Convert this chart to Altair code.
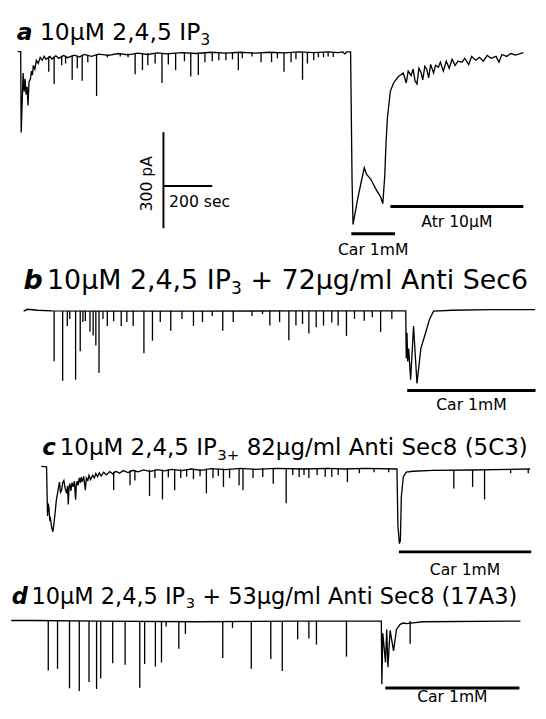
import altair as alt
import pandas as pd

# ---------------- data (time in s, current in pA) ----------------
# Panel a: 10uM 2,4,5 IP3
a_line_t = [28, 40, 42, 50, 54, 58, 62, 66, 70, 74, 80, 84, 88, 92, 98, 104, 112, 120, 128, 136, 144,
            160, 168, 184, 196, 216, 232, 260, 280, 300, 330, 360, 400, 440, 480, 520, 560, 600, 640,
            700, 760, 820, 880, 940, 1000, 1060, 1120, 1180, 1240, 1300, 1340, 1360, 1368, 1376, 1392,
            1398, 1402, 1421, 1435, 1448, 1457, 1475, 1495, 1515, 1524, 1532, 1537, 1543, 1555, 1568,
            1588, 1608, 1620, 1628, 1640, 1648, 1656, 1664, 1672, 1680, 1688, 1696, 1704, 1712, 1720,
            1732, 1740, 1752, 1760, 1772, 1784, 1796, 1808, 1820, 1832, 1848, 1860, 1876, 1888, 1904,
            1920, 1936, 1952, 1968, 1988, 2000, 2012, 2032, 2048, 2068, 2100]
a_line_i = [3, 3, -250, -64, -122, -82, -131, -107, -165, -92, -82, -58, -70, -40, -52, -24, -34, -15,
            -24, -12, -21, -12, -20, -10, -18, -9, -16, -8, -14, -6, -12, -5, -9, -3, -7, -2, -6, -1, -4,
            0, -3, 1, -2, 1, -2, 1, -1, 2, 0, 2, 0, 2, -4, 2, 2,
            -400, -537, -457, -406, -360, -380, -396, -426, -451, -472, -385, -284, -202, -121, -95,
            -75, -64, -95, -58, -72, -52, -88, -98, -49, -61, -85, -43, -52, -79, -37,
            -64, -40, -46, -30, -58, -27, -49, -21, -40, -27, -30, -18, -37, -12, -24,
            -15, -27, -9, -18, -12, -30, -6, -12, -3, -8, 0]
a_spk_t = [155, 177, 208, 224, 251, 272, 292, 315, 351, 395, 448, 480, 509, 539, 561, 591, 619, 645, 675,
           711, 737, 768, 795, 825, 852, 881, 908, 932, 948, 988, 1025, 1068, 1092, 1119, 1148, 1168,
           1195, 1215, 1241, 1260, 1281, 1300, 1321]
a_spk_top = [-12, -12, -10, -10, -9, -9, -8, -7, -6, -5, -4, -3, -2, -2, -2, -1, -1, -1, -1,
             0, 0, 0, 0, 0, 0, 0, 0, 0, 0, 0, 0, 0, 0, 0, 0, 0,
             0, 0, 0, 0, 0, 0, 0]
a_spk_tip = [-60, -98, -40, -34, -85, -49, -88, -30, -136, -15, -12, -15, -68, -55, -40, -34, -95, -37, -55,
             -27, -75, -70, -30, -27, -24, -24, -21, -55, -18, -12, -30, -30, -18, -60, -30, -21,
             -85, -34, -24, -15, -14, -12, -14]

# Panel b: + 72ug/ml Anti Sec6
b_line_t = [52, 68, 108, 168, 368, 768, 1168, 1618, 1620, 1623, 1626, 1630, 1638, 1650, 1664, 1680, 1696,
            1716, 1732, 1808, 1968, 2148]
b_line_i = [-3, 3, 0, -2, -3, -3, -2, -2, -150, -70, -160, -120, -217, -49, -229, -119, -79,
            -27, -3, 0, 2, 2]
b_spk_t = [177, 212, 231, 241, 265, 284, 295, 305, 324, 337, 348, 361, 377, 395, 421, 452, 475, 501,
           545, 580, 612, 655, 701, 748, 785, 825, 868, 911, 988, 1031, 1061, 1101, 1139, 1168, 1195,
           1221, 1251, 1281, 1315, 1341, 1375, 1408, 1448, 1481, 1515, 1561]
b_spk_tip = [-159, -220, -49, -27, -217, -128, -37, -34, -67, -79, -110, -195, -27, -49, -34, -49, -37,
             -49, -134, -95, -37, -64, -27, -49, -37, -18, -64, -37, -18, -12, -48, -37, -94, -48, -43,
             -73, -53, -48, -38, -48, -80, -27, -33, -22, -68, -27]

# Panel c: + 82ug/ml Anti Sec8 (5C3)
c_line_t = [124, 146, 150, 153, 156, 159, 162, 167, 172, 176, 181, 186, 191, 195, 199, 203, 208, 212,
            217, 222, 228, 232, 235, 238, 241, 246, 250, 255, 260, 265, 268, 272, 275, 280, 284, 288,
            292, 298, 305, 309, 315, 320, 326, 335, 342, 348, 355, 362, 370, 380, 392, 405, 418, 430,
            445, 460, 480, 500, 520, 545, 570, 600, 630, 660, 700, 740, 780, 820, 880, 940, 1000, 1088,
            1200, 1300, 1368, 1450, 1582, 1586, 1592, 1596, 1600, 1608, 1620, 1648, 1728, 1888, 2128]
c_line_i = [6, 5, -149, -110, -125, -160, -156, -185, -198, -175, -139, -100, -78, -60, -43, -75, -68, -45,
            -38, -62, -78, -55, -113, -60, -48, -70, -45, -58, -40, -98, -50, -40, -53, -30, -45, -27,
            -42, -25, -68, -30, -38, -22, -35, -22, -30, -16, -26, -14, -24, -12, -20, -10, -18, -9,
            -15, -7, -13, -6, -11, -5, -10, -4, -8, -3, -7, -2, -6, -1, -4, 0, -3, 0,
            -2, 0, -2, 0, -2, -180, -235, -226, -88, -27, -12, -9, -6, -5, -2]
c_spk_t = [421, 488, 508, 568, 590, 621, 645, 671, 696, 720, 748, 775, 801,
           828, 850, 871, 896, 935, 951, 992, 1032, 1075, 1128, 1155, 1181, 1201, 1221, 1255, 1288,
           1315, 1341, 1379, 1428, 1488, 1548, 1815, 1892, 1941, 2048, 2120]
c_spk_top = [-10, -6, -6, -4, -4, -4, -3, -3, -3, -2, -2, -2, -1,
             -1, -1, -1, -1, 0, 0, 0, 0, 0, 0, 0, 0, 0, 0, 0, 0,
             0, 0, -1, -1, -1, -1, -5, -5, -4, -3, -2]
c_spk_tip = [-68, -53, -38, -86, -30, -97, -28, -68, -30, -26, -34, -25, -78,
             -30, -24, -58, -30, -53, -68, -30, -27, -48, -109, -21, -27, -21, -30, -21, -27,
             -27, -21, -43, -15, -12, -12, -63, -58, -97, -15, -15]

# Panel d: + 53ug/ml Anti Sec8 (17A3)
d_line_t = [1, 88, 368, 768, 1168, 1518, 1520, 1524, 1535, 1540, 1545, 1554, 1568, 1580, 1595, 1608,
            1620, 1688, 2088]
d_line_i = [2, 2, 0, -2, 0, 0, -197, -38, -129, -26, -144, -29, -93, -26, -10, -6,
            -8, -2, 0]
d_spk_t = [153, 191, 240, 280, 320, 351, 368, 417, 468, 528, 548, 592, 617, 636, 688, 715, 868, 908,
           985, 1065, 1112, 1175, 1221, 1252, 1375, 1636]
d_spk_tip = [-154, -149, -210, -218, -190, -212, -179, -132, -136, -208, -134, -142, -129, -17, -86, -40,
             -115, -22, -149, -118, -156, -57, -54, -73, -111, -71]

# drug application bars: start, end (s)
bar_start = [1395, 1555, 1624, 1590, 1534]
bar_end = [1574, 2100, 2150, 2132, 2084]
bar_text = ["Car 1mM", "Atr 10\u00b5M", "Car 1mM", "Car 1mM", "Car 1mM"]

# scale bar
scale_pa = 300
scale_s = 200

# ---------------- layout ----------------
S_PER_PX = 4.0
PA_PER_PX = 3.05
W = 538
XDOM = [0, W * S_PER_PX]
FONT = "DejaVu Sans"
LW = 1.35


def xs(field="t:Q"):
    return alt.X(field, scale=alt.Scale(domain=XDOM, nice=False, zero=False), axis=None)


def ys(dom, field="i:Q"):
    return alt.Y(field, scale=alt.Scale(domain=dom, nice=False, zero=False), axis=None)


def panel(height, top_px, line_t, line_i, spk_t, spk_top, spk_tip, bars, bar_i, lab_i, title, extra=None):
    top = top_px * PA_PER_PX
    dom = [top - height * PA_PER_PX, top]
    ldf = pd.DataFrame({"t": line_t, "i": line_i, "o": list(range(len(line_t)))})
    layers = [
        alt.Chart(ldf).mark_line(color="black", strokeWidth=LW).encode(
            x=xs(), y=ys(dom), order="o:Q"),
    ]
    sdf = pd.DataFrame({"t": spk_t, "i": spk_top, "i2": spk_tip})
    layers.append(alt.Chart(sdf).mark_rule(color="black", strokeWidth=LW).encode(
        x=xs(), y=ys(dom), y2="i2:Q"))
    for k, bi, li in zip(bars, bar_i, lab_i):
        bdf = pd.DataFrame({"t": [bar_start[k]], "t2": [bar_end[k]], "i": [bi],
                            "tc": [(bar_start[k] + bar_end[k]) / 2], "li": [li[0]], "txt": [bar_text[k]]})
        layers.append(alt.Chart(bdf).mark_rule(color="black", strokeWidth=3).encode(
            x=xs(), x2="t2:Q", y=ys(dom)))
        layers.append(alt.Chart(bdf).mark_text(font=FONT, fontSize=li[1], baseline="middle",
                                               align="center").encode(
            x=xs("tc:Q"), y=ys(dom, "li:Q"), text="txt:N"))
    tdf = pd.DataFrame(title)
    for kind, style in [("L", dict(fontWeight="bold", fontStyle="italic")), ("M", {}), ("S", {})]:
        sub = tdf[tdf["kind"] == kind]
        if len(sub):
            layers.append(alt.Chart(sub).mark_text(font=FONT, align="left", baseline="alphabetic",
                                                   **style).encode(
                x=xs(), y=ys(dom), text="txt:N", size=alt.Size("fs:Q", scale=None)))
    if extra is not None:
        layers += extra(dom)
    return alt.layer(*layers).properties(width=W, height=height)


def scalebar(dom):
    vdf = pd.DataFrame({"t": [625], "i": [-249], "i2": [-249 - scale_pa]})
    hdf = pd.DataFrame({"t": [625], "t2": [625 + scale_s], "i": [-417]})
    lab = pd.DataFrame({"t": [558, 648], "i": [-410, -467], "txt": [f"{scale_pa} pA", f"{scale_s} sec"]})
    return [
        alt.Chart(vdf).mark_rule(color="black", strokeWidth=2).encode(x=xs(), y=ys(dom), y2="i2:Q"),
        alt.Chart(hdf).mark_rule(color="black", strokeWidth=2).encode(x=xs(), x2="t2:Q", y=ys(dom)),
        alt.Chart(lab.iloc[[0]]).mark_text(font=FONT, fontSize=16, angle=270, baseline="middle",
                                           align="center").encode(x=xs(), y=ys(dom), text="txt:N"),
        alt.Chart(lab.iloc[[1]]).mark_text(font=FONT, fontSize=16, baseline="middle",
                                           align="left").encode(x=xs(), y=ys(dom), text="txt:N"),
    ]


title_a = {"kind": ["L", "M", "S"], "txt": ["a", "10\u00b5M 2,4,5 IP", "3"],
           "t": [24, 119, 777], "i": [40, 40, 24], "fs": [24, 24, 15.6]}
title_b = {"kind": ["L", "M", "S", "M"], "txt": ["b", "10\u00b5M 2,4,5 IP", "3", "+ 72\u00b5g/ml Anti Sec6"],
           "t": [52, 148, 902, 982], "i": [67, 67, 52, 67], "fs": [27.5, 27.5, 17.5, 27.5]}
title_c = {"kind": ["L", "M", "S", "M"], "txt": ["c", "10\u00b5M 2,4,5 IP", "3+", "82\u00b5g/ml Anti Sec8 (5C3)"],
           "t": [128, 200, 846, 966], "i": [42, 42, 26, 42], "fs": [23.5, 23.5, 15.3, 23.5]}
title_d = {"kind": ["L", "M", "S", "M"], "txt": ["d", "10\u00b5M 2,4,5 IP", "3", "+ 53\u00b5g/ml Anti Sec8 (17A3)"],
           "t": [3, 84, 716, 784], "i": [55, 55, 41, 55], "fs": [23, 23, 15, 23]}

pa = panel(254, 37, a_line_t, a_line_i, a_spk_t, a_spk_top, a_spk_tip, [0, 1], [-566, -481],
           [(-616, 16), (-531, 16)], title_a, extra=scalebar)
pb = panel(158, 47, b_line_t, b_line_i, b_spk_t, [-2] * len(b_spk_t), b_spk_tip, [2], [-251],
           [(-297, 16)], title_b)
pc = panel(165, 51, c_line_t, c_line_i, c_spk_t, c_spk_top, c_spk_tip, [3], [-261],
           [(-317, 16)], title_c)
pd_ = panel(126, 42.5, d_line_t, d_line_i, d_spk_t, [0] * len(d_spk_t), d_spk_tip, [4], [-209],
            [(-238, 16)], title_d)

chart = alt.vconcat(pa, pb, pc, pd_, spacing=0, bounds="flush").properties(
    padding=0, background="white"
).configure_view(stroke=None)

chart.save("out.html", embed_options={"renderer": "svg", "actions": False})
